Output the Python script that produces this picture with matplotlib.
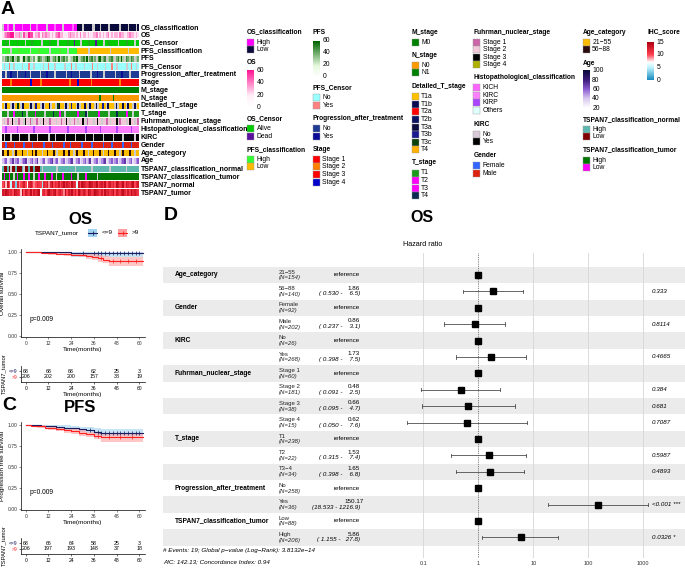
import numpy as np
import matplotlib
matplotlib.use('Agg')
import matplotlib.pyplot as plt
from matplotlib.patches import Rectangle
from matplotlib.collections import PatchCollection
from matplotlib.colors import LinearSegmentedColormap
import matplotlib.transforms as mtransforms

plt.rcParams['font.family'] = ['Liberation Sans', 'DejaVu Sans']

# ---------------- data: heatmap (A) ----------------
row_names = ["OS_classification", "OS", "OS_Censor", "PFS_classification", "PFS", "PFS_Censor",
             "Progression_after_treatment", "Stage", "M_stage", "N_stage", "Detailed_T_stage", "T_stage",
             "Fuhrman_nuclear_stage", "Histopathological_classification", "KIRC", "Gender",
             "Age_category", "Age", "TSPAN7_classification_normal", "TSPAN7_classification_tumor",
             "TSPAN7_normal", "TSPAN7_tumor"]
os_class = "gHHpHHHgHHHHpHHHHgHHHpHHHHHgHHHHpHHHHgHHHHHpHHLLLgLLLLLggLLLgLLLLgLLLLLLgLLLLgLLLLgL"
os_val = "23455662334g25336552334243433232345332223433232423323223342323234232332433223433232"
os_cens = "AAaAgAAAAaAAAAgAAAaAAAAAgAAAAaAAAAgAAAAAaAAADAAAgAAAAaAAADAAAAgAAaAAAAAgAAAAaAAAAgAA"
pfs_class = "HHHhHgHHHHhHHHHHHgHHHHhHHHHHHgHHHHHhHHHHgHHHHHLLLLLLLgLLLLLLLLLLLLgLLLLLLLLLLgLLLLLL"
pfs_val = "3g45346g3542g63453g42354g3465g34536g45342g3546g34536g4534g56345g3453g45363g54354g34"
pfs_cens = "NgNNYNNgNNNNgNNNYNNgNNNNNgNNYNNNgNNNNNgNNNYNNgNNNNgNNNNYNNgNNNNgNNNYNNgNNNNNgNNYNNgN"
progression = "NNgNNYNNNgNNNNYNNgNNNNNgNNNYNNNNgNNNNNNgNNYNNNNgNNNNNNgNNNYNNNgNNNNNNgNNNYNNNNgNNNNN"
stage = "1111121111113111141111121111111131111111211114111111121111111311111111211111111111"
m_stage = "M"
n_stage = ("OOOOOOOOOOOOOOOOOOOOOOOOOOOOOOOOOOOOOOOOOOOOOOOOOOOOOOOOOOOOOOOOOOOOOOO"
           "NOOOOOOOOONOOOOOOOOOOOOOOOOOO")
detailed_t = "agbaagbgadagbaaagbgacaagbgaabgaagdbaagbgacaagbgaabagbaagbgaacagbaaagbgaabagbaagbga"
t_stage = "111g11121111411g1111211111g11114111211g1111111211114g111111211111g11114111112111g111"
fuhrman = "2g212232g2122g3221g2212g2322g1222g2212232g2212g2232g1222g2322g2212g2223g1222g2322g21"
histo = "ccpccccccpcccccccccpcccccccccpccccccccccpccccccccccpccccccccpcccccccccpccccccccpcccc"
kirc = "YNYYYgYYYYNYYYYYgYYYYNYYYYYYgYYYNYYYYYgYYYYYNYYYYYgYYYYNYYYYYgYYYYYNYYYYYgYYYYYYNYY"
gender = "MMFMMMMFMMMMMFMMMMFMMMMMMFMMMMFMMMMMMFMMMFMMMMMMFMMMMMFMMMMMMFMMMMFMMMMMMFMMMMFMMMM"
age_cat = "OYYOYYgYOYYYOYYgYYOYOYYYgYYOYYYOYgYYYOYYOYYgYOYYYOYYgYYOYYYOYgYYOYYYOYYgYOYYYOYYgYY"
age_val = "45634574563456734564573456345674563456345673456345645734563456734564563456734563456"
tsp_cls_n = "HLLHLgLLHLLLHgLLHLLHLLLHgHHHHHHHHgHHHHHHHHHHgHHHHHHHHHgHHHHHHHHHHgHHHHHHHHHgHHHHHHH"
tsp_cls_t = "HLHHLHHgHLHHHLHHLHHgHHLHHHLHHHLHHgHHHLHHHHLHHHgHHHHLHHHHHHgHHHHHHHHHHHHHHHHHHHHHHHHH"
tsp_norm = "ac8da5cb3c9abda7cdb9acba4cbd9ceacbdacebdcaecb6daedcbcedbceacdbeacdbcaedbceadcbdeacd"
tsp_tum = "dcedbcaedcb8eadcbeadcde7bcadecbdeacdb9eadcebdaecbdcaedbcedcbdaecdbceadcbdecadbecdcb"

# ---------------- data: KM (B, C) ----------------
time_ticks = [0, 12, 24, 36, 48, 60]
os_lo_t = [0, 9, 24, 62]
os_lo_s = [1.0, 0.995, 0.985, 0.985]
os_lo_l = [1.0, 0.975, 0.945, 0.945]
os_lo_u = [1.0, 1.0, 1.0, 1.0]
os_lo_c = [30, 36, 38, 40, 42, 44, 46, 48, 50, 52, 54, 56, 58, 60]
os_hi_t = [0, 4, 8, 12, 16, 20, 24, 28, 32, 35, 38, 41, 44, 62]
os_hi_s = [1.0, 0.995, 0.99, 0.985, 0.98, 0.975, 0.97, 0.96, 0.95, 0.94, 0.925, 0.91, 0.89, 0.89]
os_hi_l = [1.0, 0.985, 0.978, 0.97, 0.962, 0.955, 0.948, 0.935, 0.92, 0.905, 0.885, 0.865, 0.835, 0.835]
os_hi_u = [1.0, 1.0, 1.0, 1.0, 0.998, 0.995, 0.992, 0.985, 0.98, 0.975, 0.965, 0.955, 0.94, 0.94]
os_hi_c = [40, 46, 50, 54, 58]
pfs_lo_t = [0, 3, 8, 12, 16, 20, 24, 28, 32, 36, 40, 62]
pfs_lo_s = [1.0, 0.995, 0.99, 0.984, 0.978, 0.97, 0.962, 0.95, 0.935, 0.92, 0.91, 0.91]
pfs_lo_l = [1.0, 0.985, 0.975, 0.965, 0.955, 0.945, 0.935, 0.92, 0.9, 0.885, 0.87, 0.87]
pfs_lo_u = [1.0, 1.0, 1.0, 1.0, 1.0, 0.995, 0.99, 0.982, 0.972, 0.96, 0.955, 0.955]
pfs_lo_c = [34, 38, 40, 42, 44, 46, 48, 50, 52, 54, 56, 58, 60]
pfs_hi_t = [0, 3, 6, 10, 12, 16, 20, 24, 28, 32, 36, 40, 62]
pfs_hi_s = [1.0, 0.993, 0.985, 0.97, 0.96, 0.95, 0.935, 0.925, 0.905, 0.89, 0.875, 0.855, 0.855]
pfs_hi_l = [1.0, 0.982, 0.97, 0.952, 0.94, 0.928, 0.91, 0.898, 0.875, 0.855, 0.835, 0.795, 0.795]
pfs_hi_u = [1.0, 1.0, 0.998, 0.99, 0.982, 0.975, 0.962, 0.952, 0.935, 0.922, 0.91, 0.9, 0.9]
pfs_hi_c = [38, 44, 50, 56]
risk_os_lo = [68, 68, 68, 62, 25, 3]
risk_os_hi = [206, 202, 200, 157, 38, 19]
risk_pfs_lo = [68, 66, 64, 58, 25, 3]
risk_pfs_hi = [206, 197, 193, 148, 37, 18]

# ---------------- data: forest (D) ----------------
f_var = ["Age_category", "", "Gender", "", "KIRC", "", "Fuhrman_nuclear_stage", "", "", "",
         "T_stage", "", "", "Progression_after_treatment", "", "TSPAN7_classification_tumor", ""]
f_level = ["21\u221255", "56\u221288", "Female", "Male", "No", "Yes", "Stage 1", "Stage 2", "Stage 3",
           "Stage 4", "T1", "T2", "T3\u22124", "No", "Yes", "Low", "High"]
f_n = [154, 140, 92, 202, 26, 268, 60, 181, 38, 15, 238, 22, 34, 258, 36, 88, 206]
f_hr = [1, 1.86, 1, 0.86, 1, 1.73, 1, 0.48, 0.66, 0.62, 1, 1.53, 1.65, 1, 150.17, 1, 5.86]
f_lo = [None, 0.530, None, 0.237, None, 0.398, None, 0.091, 0.095, 0.050, None, 0.315, 0.398, None, 18.533, None, 1.155]
f_hi = [None, 6.5, None, 3.1, None, 7.5, None, 2.5, 4.7, 7.6, None, 7.4, 6.8, None, 1216.9, None, 27.8]
f_p = ["", "0.333", "", "0.8114", "", "0.4665", "", "0.384", "0.681", "0.7087", "", "0.5987", "0.4893",
       "", "<0.001 ***", "", "0.0326 *"]
f_ticks = [0.1, 1, 10, 100, 1000]

# ---------------- figure ----------------
W, H = 685, 568
fig = plt.figure(figsize=(W / 100, H / 100), dpi=100)


def add_ax(x0, y0, x1, y1):
    a = fig.add_axes([x0 / W, 1 - y1 / H, (x1 - x0) / W, (y1 - y0) / H])
    a.patch.set_visible(False)
    return a


ov = add_ax(0, 0, W, H)
ov.axis('off')

GRAY = '#cdcdcd'
os_cmap = LinearSegmentedColormap.from_list('os', [(0, 'white'), (0.3, '#fff0f8'), (1, '#ff1493')])
pfs_cmap = LinearSegmentedColormap.from_list('pfs', [(0, 'white'), (0.3, '#e8fae0'), (1, '#006400')])
age_cmap = LinearSegmentedColormap.from_list('age', [(0, 'white'), (0.25, '#d8c8f0'), (0.5, '#8a5ad0'),
                                                     (0.75, '#3a1a7a'), (1, '#0a0a3c')])
ihc_cmap = LinearSegmentedColormap.from_list('ihc', [(0, '#1a8cc0'), (0.33, '#bff4ff'), (0.47, 'white'),
                                                     (0.67, '#ff4050'), (1, '#b00010')])

cat_pal = {
    0: {'H': '#ff00ff', 'p': '#ff66ff', 'L': '#0b0b3b'},
    2: {'A': '#00cc00', 'a': '#22aa22', 'D': '#5a0f9e'},
    3: {'H': '#33ff33', 'h': '#55e633', 'L': '#ffbb00'},
    5: {'N': '#99ffff', 'Y': '#ff8080'},
    6: {'N': '#1f3a93', 'Y': '#0b0b99'},
    7: {'1': '#ff0000', '2': '#ff7f00', '3': '#ff0000', '4': '#0000cd'},
    8: {'M': '#008000'},
    9: {'O': '#ff9900', 'N': '#008000'},
    10: {'a': '#ffc000', 'b': '#0a0a50', 'c': '#1a1a90', 'd': '#0a400a'},
    11: {'1': '#1a9a1a', '2': '#ff00ff', '3': '#ff00ff', '4': '#0a2850'},
    12: {'1': '#cc66aa', '2': '#f0c8d8', '3': '#000000', '4': '#b0b000'},
    13: {'c': '#ff80ff', 'h': '#ff66ff', 'p': '#aa44ff', 'o': '#e0ffff'},
    14: {'Y': '#000000', 'N': '#d8c8d8'},
    15: {'M': '#dd2211', 'F': '#3366ff'},
    16: {'Y': '#ffbb00', 'O': '#2a0a0a'},
    18: {'H': '#5fb8b0', 'L': '#800000'},
    19: {'H': '#007700', 'L': '#ff00ff'},
}
cont = {1: (os_cmap, 0, 60, 10), 4: (pfs_cmap, 0, 60, 10), 17: (age_cmap, 20, 100, 10),
        20: (ihc_cmap, 0, 15, 1), 21: (ihc_cmap, 0, 15, 1)}
rows = [os_class, os_val, os_cens, pfs_class, pfs_val, pfs_cens, progression, stage, m_stage, n_stage,
        detailed_t, t_stage, fuhrman, histo, kirc, gender, age_cat, age_val, tsp_cls_n, tsp_cls_t,
        tsp_norm, tsp_tum]

hx0, hx1, hy0, pitch = 2, 139, 23.4, 7.86
hax = add_ax(hx0, hy0, hx1, hy0 + pitch * len(rows))
hax.set_xlim(0, 1)
hax.set_ylim(len(rows), 0)
hax.axis('off')
patches, cols = [], []
for r, s in enumerate(rows):
    n = len(s)
    for j, ch in enumerate(s):
        if ch == 'g':
            c = GRAY
        elif r in cont:
            cm, vmin, vmax, mult = cont[r]
            v = int(ch, 16) * mult
            c = cm((v - vmin) / (vmax - vmin))
        else:
            c = cat_pal[r][ch]
        patches.append(Rectangle((j / n, r + 0.09), 1 / n, 0.82))
        cols.append(c)
hax.add_collection(PatchCollection(patches, facecolors=cols, edgecolors='none'))
for r, name in enumerate(row_names):
    ov.text(141, hy0 + pitch * (r + 0.5), name, fontsize=5.0, fontweight='bold', va='center', ha='left')

# ---------- legends ----------
TFS, LFS = 4.8, 4.9


def cat_legend(x, ty, title, items):
    ov.text(x, ty, title, fontsize=TFS, fontweight='bold', va='center', ha='left')
    for k, (lab, col) in enumerate(items):
        yy = ty + 10 + 7.6 * k
        ov.add_patch(Rectangle((x, yy - 3.5), 7, 7, facecolor=col, edgecolor='#9a9a9a', lw=0.3))
        ov.text(x + 9.5, yy, lab, fontsize=LFS, va='center', ha='left')


def cb_legend(x, ty, title, cmap, vmin, vmax, labels, ytop, ybot):
    ov.text(x, ty, title, fontsize=TFS, fontweight='bold', va='center', ha='left')
    grad = np.linspace(0, 1, 100)[:, None]
    ov.imshow(grad, cmap=cmap, extent=(x, x + 7, ybot, ytop), origin='lower', aspect='auto', zorder=2)
    for lab in labels:
        yy = ybot - (lab - vmin) / (vmax - vmin) * (ybot - ytop)
        ov.text(x + 9.5, yy, str(lab), fontsize=LFS, va='center', ha='left')


cat_legend(247, 32, "OS_classification", [("High", '#ff00ff'), ("Low", '#0b0b3b')])
cb_legend(247, 62.7, "OS", os_cmap, 0, 60, [60, 40, 20, 0], 70.7, 107.3)
cat_legend(247, 118.7, "OS_Censor", [("Alive", '#00cc00'), ("Dead", '#5a0f9e')])
cat_legend(247, 149.3, "PFS_classification", [("High", '#33ff33'), ("Low", '#ffbb00')])

cb_legend(313, 32, "PFS", pfs_cmap, 0, 60, [60, 40, 20, 0], 41, 76.7)
cat_legend(313, 87.7, "PFS_Censor", [("No", '#99ffff'), ("Yes", '#ff8080')])
cat_legend(313, 118.7, "Progression_after_treatment", [("No", '#1f3a93'), ("Yes", '#0b0b99')])
cat_legend(313, 149.3, "Stage", [("Stage 1", '#ff0000'), ("Stage 2", '#ff7f00'), ("Stage 3", '#ff0000'),
                                 ("Stage 4", '#0000cd')])

cat_legend(411.7, 32, "M_stage", [("M0", '#008000')])
cat_legend(411.7, 55.3, "N_stage", [("N0", '#ff9900'), ("N1", '#008000')])
cat_legend(411.7, 86.7, "Detailed_T_stage", [("T1a", '#ffc000'), ("T1b", '#0a0a50'), ("T2a", '#ff0000'),
                                             ("T2b", '#0a1060'), ("T3a", '#0a0a40'), ("T3b", '#1a1a90'),
                                             ("T3c", '#0a400a'), ("T4", '#ffb000')])
cat_legend(411.7, 163, "T_stage", [("T1", '#1a9a1a'), ("T2", '#ff00ff'), ("T3", '#ff00ff'), ("T4", '#0a2850')])

cat_legend(473.3, 32, "Fuhrman_nuclear_stage", [("Stage 1", '#cc66aa'), ("Stage 2", '#f0c8d8'),
                                                ("Stage 3", '#000000'), ("Stage 4", '#b0b000')])
cat_legend(473.3, 77.7, "Histopathological_classification", [("KICH", '#ff66ff'), ("KIRC", '#ff80ff'),
                                                              ("KIRP", '#aa44ff'), ("Others", '#e0ffff')])
cat_legend(473.3, 124.3, "KIRC", [("No", '#d8c8d8'), ("Yes", '#000000')])
cat_legend(473.3, 155.7, "Gender", [("Female", '#3366ff'), ("Male", '#dd2211')])

cat_legend(582.7, 32, "Age_category", [("21\u221255", '#ffbb00'), ("56\u221288", '#2a0a0a')])
cb_legend(582.7, 63.3, "Age", age_cmap, 20, 100, [100, 80, 60, 40, 20], 70.7, 108.3)
cat_legend(582.7, 119.3, "TSPAN7_classification_normal", [("High", '#5fb8b0'), ("Low", '#800000')])
cat_legend(582.7, 150, "TSPAN7_classification_tumor", [("High", '#007700'), ("Low", '#ff00ff')])
cb_legend(647.3, 32, "IHC_score", ihc_cmap, 0, 15, [15, 10, 5, 0], 42.3, 80)

# ---------- panel letters / titles ----------
ov.text(1, 10, "A", fontsize=14, fontweight='bold', va='center', ha='left')
ov.text(2, 216, "B", fontsize=14, fontweight='bold', va='center', ha='left')
ov.text(2, 405, "C", fontsize=14, fontweight='bold', va='center', ha='left')
ov.text(164, 216, "D", fontsize=14, fontweight='bold', va='center', ha='left')
ov.text(80, 219, "OS", fontsize=12, fontweight='bold', va='center', ha='center')
ov.text(80, 407, "PFS", fontsize=12, fontweight='bold', va='center', ha='center')
ov.text(422, 218, "OS", fontsize=11.5, fontweight='bold', va='center', ha='center')

NAVY, RED = '#1b1b5e', '#ff2020'
BLUE_F, RED_F = '#9fd3f0', '#ffa0a0'

# KM legend (B)
ov.text(35, 232.7, "TSPAN7_tumor", fontsize=4.6, va='center', ha='left')
for kx, lc, fc, lab in [(88, NAVY, BLUE_F, "<=9"), (118, RED, RED_F, ">9")]:
    ov.add_patch(Rectangle((kx, 229), 9.5, 7.5, facecolor=fc, edgecolor='none'))
    ov.plot([kx, kx + 9.5], [232.7, 232.7], color=lc, lw=0.8)
    ov.plot([kx + 4.75], [232.7], marker='+', color=lc, ms=3, mew=0.6)
    ov.text(kx + 14, 232.7, lab, fontsize=4.6, va='center', ha='left')


def km_axes(box, curves, ylab, ptxt_y):
    ax = add_ax(*box)
    for t, s, lo, hi, cens, lc, fc in curves:
        ax.fill_between(t, lo, hi, step='post', color=fc, alpha=0.6, lw=0)
        ax.step(t, s, where='post', color=lc, lw=0.8)
        cs = [s[np.searchsorted(t, c, side='right') - 1] for c in cens]
        ax.plot(cens, cs, ls='none', marker='+', color=lc, ms=2.5, mew=0.5)
    ax.set_xlim(-2.48, 63.0)
    ax.set_ylim(-0.012, 1.036)
    ax.set_xticks(time_ticks)
    ax.set_yticks([0, 0.25, 0.5, 0.75, 1.0])
    ax.set_yticklabels(["0.00", "0.25", "0.50", "0.75", "1.00"])
    ax.tick_params(labelsize=3.6, length=1.5, width=0.4, pad=1.2, colors='#333333')
    for sp in ['top', 'right']:
        ax.spines[sp].set_visible(False)
    for sp in ['left', 'bottom']:
        ax.spines[sp].set_linewidth(0.5)
    ax.set_xlabel("Time(months)", fontsize=4.6, labelpad=0.8)
    ax.set_ylabel(ylab, fontsize=4.6, labelpad=1.5)
    ax.text(2, ptxt_y, "p=0.009", fontsize=4.8, va='center', ha='left')
    return ax


km_axes((21, 249, 145, 337),
        [(os_lo_t, os_lo_s, os_lo_l, os_lo_u, os_lo_c, NAVY, BLUE_F),
         (os_hi_t, os_hi_s, os_hi_l, os_hi_u, os_hi_c, RED, RED_F)], "Overall survival", 0.2)
km_axes((21, 422, 145, 510),
        [(pfs_lo_t, pfs_lo_s, pfs_lo_l, pfs_lo_u, pfs_lo_c, NAVY, BLUE_F),
         (pfs_hi_t, pfs_hi_s, pfs_hi_l, pfs_hi_u, pfs_hi_c, RED, RED_F)], "Progression free survival", 0.2)


def risk_axes(box, lo, hi, xlabel):
    ax = add_ax(*box)
    for k, t in enumerate(time_ticks):
        ax.text(t, 1, str(lo[k]), fontsize=3.8, ha='center', va='center')
        ax.text(t, 0, str(hi[k]), fontsize=3.8, ha='center', va='center')
    ax.set_xlim(-2.48, 63.0)
    ax.set_ylim(-0.9, 1.9)
    ax.set_xticks(time_ticks)
    ax.set_yticks([1, 0])
    ax.set_yticklabels(["<=9", ">9"])
    for lab, c in zip(ax.get_yticklabels(), [NAVY, RED]):
        lab.set_color(c)
    ax.tick_params(labelsize=3.6, length=1.5, width=0.4, pad=1.2)
    for sp in ['top', 'right']:
        ax.spines[sp].set_visible(False)
    for sp in ['left', 'bottom']:
        ax.spines[sp].set_linewidth(0.5)
    if xlabel:
        ax.set_xlabel("Time(months)", fontsize=4.6, labelpad=0.8)
    ax.set_ylabel("TSPAN7_tumor", fontsize=4.2, labelpad=2)
    return ax


risk_axes((21, 366, 145, 382), risk_os_lo, risk_os_hi, True)
risk_axes((21, 538, 145, 554), risk_pfs_lo, risk_pfs_hi, False)

# ---------- forest (D) ----------
fax = add_ax(163, 253, 685, 558)
fax.set_xscale('log')
fax.set_xlim(10 ** -5.737, 10 ** 3.7585)
fax.set_ylim(17.76, -0.835)
nrow = len(f_level)
for i in range(nrow):
    if i % 2 == 0:
        fax.axhspan(i, i + 1, color='#ebebeb', lw=0, zorder=0)
for v in [0.1, 10, 100, 1000]:
    fax.axvline(v, color='#d6d6d6', lw=0.6, zorder=1)
fax.axvline(1, color='#555555', lw=0.6, ls=(0, (1, 1.2)), zorder=1)
for i in range(nrow):
    yc = i + 0.5
    if f_lo[i] is not None:
        fax.plot([f_lo[i], f_hi[i]], [yc, yc], color='#4d4d4d', lw=0.6, zorder=2)
        for e in (f_lo[i], f_hi[i]):
            fax.plot([e, e], [yc - 0.1, yc + 0.1], color='#4d4d4d', lw=0.6, zorder=2)
    fax.plot([f_hr[i]], [yc], marker='s', color='black', ms=4.6, zorder=3)
fax.set_xticks(f_ticks)
fax.set_xticklabels(["0.1", "1", "10", "100", "1000"])
fax.minorticks_off()
fax.tick_params(axis='x', labelsize=4, length=0, pad=2.5, colors='#333333')
fax.tick_params(axis='y', left=False, labelleft=False)
for sp in fax.spines.values():
    sp.set_visible(False)

tr = mtransforms.blended_transform_factory(ov.transData, fax.transData)
for i in range(nrow):
    yc = i + 0.5
    if f_var[i]:
        fax.text(175, yc, f_var[i], transform=tr, fontsize=4.8, fontweight='bold', va='center', ha='left')
    fax.text(279, i + 0.33, f_level[i], transform=tr, fontsize=4.3, va='center', ha='left', color='#222222')
    fax.text(279, i + 0.68, "(N=%d)" % f_n[i], transform=tr, fontsize=4.3, va='center', ha='left',
             style='italic', color='#222222')
    if f_lo[i] is None:
        fax.text(347, yc, "reference", transform=tr, fontsize=4.5, va='center', ha='center')
    else:
        fax.text(354, i + 0.3, "%.2f" % f_hr[i], transform=tr, fontsize=4.5, va='center', ha='center')
        lo_s = ("%.3f" % f_lo[i]).rjust(6)
        hi_s = ("%.1f" % f_hi[i]).rjust(6)
        fax.text(360, i + 0.66, "(%s - %s)" % (lo_s, hi_s), transform=tr, fontsize=4.5, va='center',
                 ha='right', style='italic')
    if f_p[i]:
        fax.text(652, yc, f_p[i], transform=tr, fontsize=4.5, va='center', ha='left', style='italic')

ov.text(423, 245, "Hazard ratio", fontsize=5.2, va='center', ha='center')
ov.text(163, 550.5, "# Events: 19; Global p\u2212value (Log\u2212Rank): 3.8132e\u221214", fontsize=4.5,
        style='italic', va='center', ha='left')
ov.text(163, 562.0, "AIC: 142.13; Concordance Index: 0.94", fontsize=4.5, style='italic', va='center',
        ha='left')

ov.set_xlim(0, W)
ov.set_ylim(H, 0)
fig.savefig("out.png", dpi=100)
